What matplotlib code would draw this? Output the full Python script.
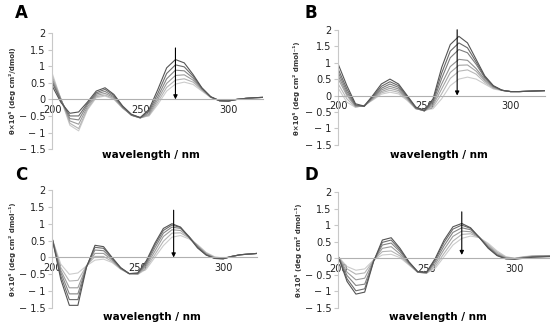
import matplotlib
matplotlib.use("Agg")
import matplotlib.pyplot as plt
import numpy as np

wavelength = [200, 205, 210, 215, 220, 225, 230, 235, 240, 245, 250, 255, 260,
              265, 270, 275, 280, 285, 290, 295, 300, 305, 310, 315, 320]

# panel A: darkest (first) to lightest (last)
spectra_a = [
    [0.40, -0.10, -0.42, -0.38, -0.08, 0.25, 0.35, 0.15, -0.20, -0.45, -0.55, -0.30, 0.30, 0.95, 1.20, 1.10, 0.75, 0.35, 0.08, -0.04, -0.05, 0.00, 0.03, 0.05, 0.06],
    [0.50, -0.05, -0.50, -0.50, -0.12, 0.20, 0.30, 0.12, -0.22, -0.47, -0.55, -0.35, 0.18, 0.78, 1.04, 0.98, 0.70, 0.34, 0.08, -0.04, -0.05, 0.00, 0.03, 0.05, 0.06],
    [0.55, -0.02, -0.58, -0.62, -0.16, 0.16, 0.24, 0.08, -0.24, -0.48, -0.56, -0.40, 0.08, 0.62, 0.88, 0.86, 0.64, 0.32, 0.07, -0.04, -0.05, 0.00, 0.03, 0.05, 0.06],
    [0.62, 0.00, -0.65, -0.75, -0.22, 0.12, 0.18, 0.05, -0.25, -0.48, -0.56, -0.45, 0.00, 0.48, 0.72, 0.74, 0.58, 0.30, 0.07, -0.04, -0.05, 0.00, 0.03, 0.05, 0.06],
    [0.70, 0.00, -0.72, -0.88, -0.28, 0.08, 0.13, 0.02, -0.26, -0.47, -0.56, -0.48, -0.08, 0.36, 0.58, 0.62, 0.52, 0.28, 0.06, -0.04, -0.05, 0.00, 0.03, 0.05, 0.06],
    [0.78, 0.00, -0.78, -0.95, -0.32, 0.05, 0.10, 0.00, -0.27, -0.46, -0.55, -0.50, -0.15, 0.25, 0.46, 0.52, 0.45, 0.25, 0.06, -0.04, -0.05, 0.00, 0.03, 0.05, 0.06],
]

spectra_b = [
    [0.95, 0.30, -0.25, -0.32, 0.00, 0.35, 0.50, 0.35, 0.00, -0.35, -0.45, -0.10, 0.85, 1.55, 1.80, 1.60, 1.10, 0.60, 0.30, 0.16, 0.12, 0.12, 0.13, 0.14, 0.15],
    [0.80, 0.20, -0.28, -0.33, -0.03, 0.28, 0.42, 0.30, -0.03, -0.37, -0.46, -0.15, 0.68, 1.35, 1.60, 1.45, 1.02, 0.57, 0.29, 0.16, 0.12, 0.12, 0.13, 0.14, 0.15],
    [0.70, 0.12, -0.30, -0.33, -0.05, 0.22, 0.35, 0.25, -0.05, -0.38, -0.47, -0.20, 0.52, 1.15, 1.40, 1.30, 0.95, 0.54, 0.28, 0.16, 0.12, 0.12, 0.13, 0.14, 0.15],
    [0.60, 0.05, -0.32, -0.33, -0.08, 0.17, 0.28, 0.20, -0.08, -0.39, -0.47, -0.25, 0.35, 0.88, 1.10, 1.07, 0.82, 0.49, 0.26, 0.16, 0.12, 0.12, 0.13, 0.14, 0.15],
    [0.50, 0.00, -0.33, -0.32, -0.10, 0.12, 0.22, 0.15, -0.10, -0.40, -0.46, -0.30, 0.20, 0.70, 0.92, 0.93, 0.74, 0.45, 0.24, 0.16, 0.12, 0.12, 0.13, 0.14, 0.15],
    [0.35, -0.10, -0.35, -0.31, -0.12, 0.08, 0.16, 0.10, -0.12, -0.40, -0.46, -0.35, 0.05, 0.52, 0.74, 0.78, 0.65, 0.40, 0.22, 0.16, 0.12, 0.12, 0.13, 0.14, 0.15],
    [0.22, -0.20, -0.36, -0.30, -0.14, 0.04, 0.10, 0.05, -0.15, -0.40, -0.45, -0.40, -0.10, 0.30, 0.50, 0.56, 0.50, 0.35, 0.20, 0.15, 0.12, 0.12, 0.13, 0.14, 0.15],
]

spectra_c = [
    [0.55, -0.65, -1.42, -1.42, -0.30, 0.36, 0.32, 0.00, -0.30, -0.48, -0.46, -0.10, 0.42, 0.86, 1.00, 0.90, 0.60, 0.28, 0.07, -0.03, -0.04, 0.03, 0.08, 0.10, 0.12],
    [0.55, -0.55, -1.25, -1.25, -0.28, 0.30, 0.27, -0.02, -0.31, -0.48, -0.47, -0.15, 0.36, 0.80, 0.96, 0.89, 0.62, 0.30, 0.08, -0.03, -0.04, 0.03, 0.08, 0.10, 0.12],
    [0.55, -0.45, -1.08, -1.08, -0.27, 0.22, 0.20, -0.05, -0.32, -0.48, -0.48, -0.20, 0.28, 0.72, 0.90, 0.86, 0.62, 0.32, 0.09, -0.02, -0.04, 0.03, 0.08, 0.10, 0.12],
    [0.55, -0.38, -0.90, -0.90, -0.26, 0.12, 0.12, -0.08, -0.33, -0.48, -0.49, -0.25, 0.18, 0.62, 0.82, 0.80, 0.60, 0.34, 0.11, -0.01, -0.03, 0.03, 0.08, 0.10, 0.12],
    [0.55, -0.30, -0.70, -0.68, -0.25, 0.03, 0.03, -0.12, -0.34, -0.48, -0.50, -0.30, 0.08, 0.48, 0.72, 0.73, 0.58, 0.36, 0.13, 0.00, -0.03, 0.03, 0.08, 0.10, 0.12],
    [0.55, -0.20, -0.50, -0.46, -0.25, -0.08, -0.05, -0.15, -0.35, -0.48, -0.50, -0.35, 0.00, 0.35, 0.60, 0.65, 0.55, 0.38, 0.15, 0.02, -0.02, 0.03, 0.08, 0.10, 0.12],
]

spectra_d = [
    [0.05, -0.70, -1.08, -1.02, -0.10, 0.55, 0.62, 0.30, -0.10, -0.40, -0.42, 0.00, 0.55, 0.95, 1.05, 0.92, 0.62, 0.30, 0.08, -0.02, -0.03, 0.00, 0.03, 0.04, 0.05],
    [0.05, -0.62, -0.98, -0.92, -0.09, 0.48, 0.55, 0.25, -0.12, -0.41, -0.43, -0.04, 0.48, 0.88, 1.00, 0.90, 0.63, 0.32, 0.09, -0.01, -0.02, 0.01, 0.04, 0.05, 0.06],
    [0.05, -0.52, -0.82, -0.78, -0.08, 0.40, 0.46, 0.20, -0.14, -0.41, -0.44, -0.10, 0.38, 0.78, 0.92, 0.86, 0.63, 0.34, 0.11, 0.00, -0.01, 0.02, 0.05, 0.06, 0.07],
    [0.05, -0.42, -0.65, -0.60, -0.07, 0.30, 0.35, 0.13, -0.16, -0.42, -0.44, -0.17, 0.27, 0.66, 0.82, 0.80, 0.62, 0.37, 0.14, 0.01, -0.01, 0.03, 0.06, 0.07, 0.07],
    [0.05, -0.32, -0.48, -0.44, -0.06, 0.20, 0.22, 0.07, -0.18, -0.42, -0.45, -0.24, 0.15, 0.52, 0.72, 0.74, 0.62, 0.41, 0.18, 0.03, 0.00, 0.04, 0.07, 0.08, 0.08],
    [0.05, -0.25, -0.36, -0.32, -0.05, 0.10, 0.12, 0.02, -0.20, -0.42, -0.45, -0.30, 0.05, 0.40, 0.60, 0.67, 0.62, 0.45, 0.22, 0.05, 0.00, 0.05, 0.07, 0.08, 0.08],
]

panel_letters = ["A", "B", "C", "D"]
# arrow (x, start, end) for each panel
arrow_x = [270, 269, 271, 270]
arrow_top = [1.55, 2.0, 1.4, 1.4]
arrow_bottom = [0.0, 0.0, 0.0, 0.1]

ylabels = [
    "θ×10\u2075 (deg cm\u00b2/dmol)",
    "θ×10\u2075 (deg cm\u00b2 dmol\u207b\u00b9)",
    "θ×10\u2075 (deg cm\u00b2 dmol\u207b\u00b9)",
    "θ×10\u2075 (deg cm\u00b2 dmol\u207b\u00b9)",
]
yticks = [-1.5, -1, -0.5, 0, 0.5, 1, 1.5, 2]
ytick_labels = ["\u2212 1.5", "\u2212 1", "\u2212 0.5", "0", "0.5", "1", "1.5", "2"]
xticks = [200, 250, 300]

W, H = 550, 327
# axes rectangles in figure fraction (left, bottom, width, height)
rects = [
    [0.095, 0.544, 0.384, 0.355],
    [0.615, 0.557, 0.376, 0.352],
    [0.095, 0.058, 0.373, 0.361],
    [0.615, 0.058, 0.385, 0.355],
]
# text anchors in pixels from top-left
letter_xy = [(15, 18), (304, 18), (15, 180), (304, 180)]
ylabel_xy = [(12, 91), (296, 88), (12, 249), (299, 250)]
xlabel_xy = [(151, 155), (439, 155), (152, 317), (438, 317)]


def draw_panel(fig, i, spectra):
    rect = rects[i]
    ax = fig.add_axes(rect)
    n = len(spectra)
    greys = np.linspace(0.33, 0.80, n)
    for k in range(n - 1, -1, -1):
        ax.plot(wavelength, spectra[k], color=str(greys[k]), lw=0.8)

    ax.set_xlim(200, 320)
    ax.set_ylim(-1.5, 2)
    ax.spines["top"].set_visible(False)
    ax.spines["right"].set_visible(False)
    ax.spines["bottom"].set_position(("data", 0))
    ax.spines["bottom"].set_color("#b0b0b0")
    ax.spines["left"].set_color("#c8c8c8")
    ax.set_xticks(xticks)
    ax.set_xticklabels([str(t) for t in xticks])
    ax.set_yticks(yticks)
    ax.set_yticklabels(ytick_labels)
    ax.tick_params(axis="x", length=0, pad=4, labelsize=7, labelcolor="#222222")
    ax.tick_params(axis="y", length=3, color="#c8c8c8", pad=2, labelsize=7,
                   labelcolor="#222222")
    ax.patch.set_alpha(0)

    ax.annotate("", xy=(arrow_x[i], arrow_bottom[i]),
                xytext=(arrow_x[i], arrow_top[i]),
                arrowprops=dict(arrowstyle="-|>", color="black", lw=0.8,
                                mutation_scale=6, shrinkA=0, shrinkB=0))

    lx, ly = letter_xy[i]
    fig.text(lx / W, 1 - ly / H, panel_letters[i], fontsize=12,
             fontweight="bold", va="baseline")
    yx, yy = ylabel_xy[i]
    fig.text(yx / W, 1 - yy / H, ylabels[i], rotation=90, fontsize=5,
             fontweight="bold", ha="center", va="center", color="#333333")
    xx, xy = xlabel_xy[i]
    fig.text(xx / W, 1 - xy / H, "wavelength / nm", fontsize=7.5,
             fontweight="bold", ha="center", va="center")
    return ax


if __name__ == "__main__":
    fig = plt.figure(figsize=(W / 100, H / 100), dpi=100)
    all_spectra = [spectra_a, spectra_b, spectra_c, spectra_d]
    for i in range(4):
        draw_panel(fig, i, all_spectra[i])
    fig.savefig("out.png", dpi=100)
